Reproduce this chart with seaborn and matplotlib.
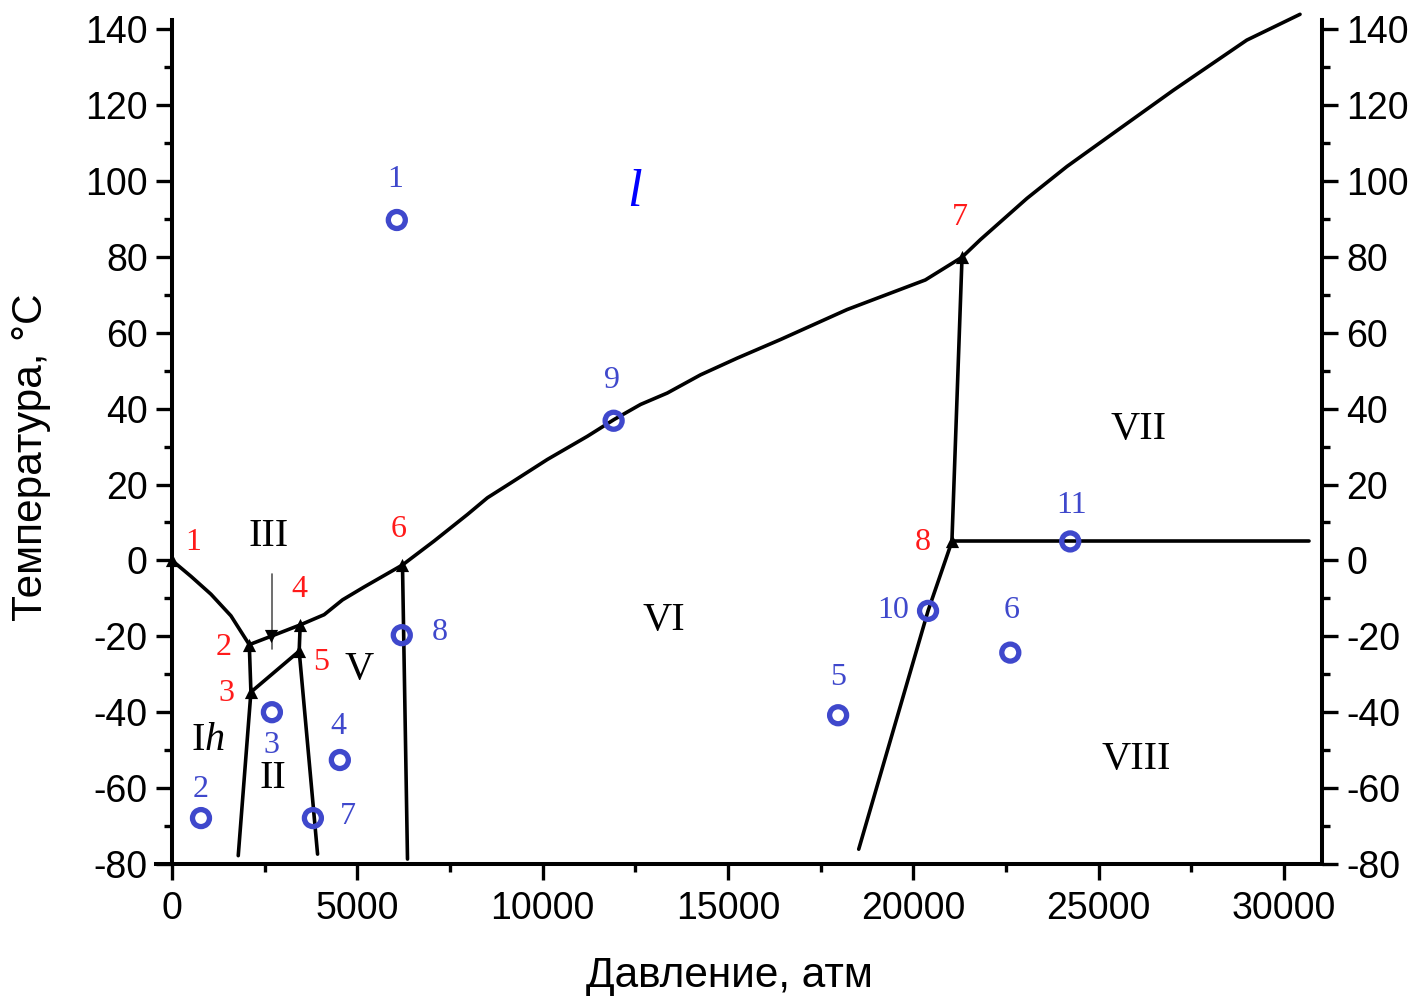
import matplotlib
matplotlib.use("Agg")
import matplotlib.pyplot as plt
import seaborn as sns
from matplotlib.ticker import MultipleLocator

# Phase boundaries of water: pressure (atm) and temperature (°C)
ih_liquid_p = [0, 512, 1050, 1590, 2085]
ih_liquid_t = [0, -4.2, -8.9, -14.6, -22.2]

iii_liquid_p = [2085, 2670, 3458]
iii_liquid_t = [-22.2, -20.0, -17.0]

v_liquid_p = [3458, 4105, 4600, 5183, 6218]
v_liquid_t = [-17.0, -14.3, -10.4, -7.0, -1.2]

vi_liquid_p = [6218, 7070, 7970, 8509, 9137, 10127, 11205, 11922, 12642,
               13361, 14259, 15248, 16415, 18213, 20323, 21313]
vi_liquid_t = [-1.2, 5.1, 12.1, 16.5, 20.4, 26.6, 32.7, 37.1, 41.1,
               44.1, 48.9, 53.3, 58.2, 66.1, 73.9, 79.9]

vii_liquid_p = [21313, 21806, 23065, 24143, 25399, 27016, 28995, 30431]
vii_liquid_t = [79.9, 84.5, 95.4, 103.8, 112.6, 123.9, 137.1, 143.9]

ih_iii_p = [2085, 2129]
ih_iii_t = [-22.2, -34.7]
ih_ii_p = [2129, 1787]
ih_ii_t = [-34.7, -77.8]
ii_iii_p = [2129, 3431]
ii_iii_t = [-34.7, -23.9]
iii_v_p = [3431, 3458]
iii_v_t = [-23.9, -17.0]
ii_v_p = [3431, 3927]
ii_v_t = [-23.9, -77.4]
v_vi_p = [6218, 6353]
v_vi_t = [-1.2, -78.7]
vi_vii_p = [21313, 21040]
vi_vii_t = [79.9, 5.0]
vi_viii_p = [21040, 20396, 18526]
vi_viii_t = [5.0, -13.3, -76.1]
vii_viii_p = [21040, 30680]
vii_viii_t = [5.0, 5.0]

# Triple points (numbered in red)
triple_p = [0, 2085, 2129, 3458, 3431, 6218, 21313, 21040]
triple_t = [0, -22.2, -34.7, -17.0, -23.9, -1.2, 79.9, 5.0]
triple_labels = ["1", "2", "3", "4", "5", "6", "7", "8"]
triple_label_p = [566, 1402, 1482, 3423, 4016, 6119, 21267, 20243]
triple_label_t = [4.7, -22.9, -35.0, -7.6, -26.8, 8.2, 90.3, 4.7]

# Sample states (numbered in blue)
state_p = [6065, 782, 2695, 4528, 17970, 22615, 3801, 6199, 11914, 20396, 24232]
state_t = [89.7, -67.9, -40.0, -52.6, -40.8, -24.3, -67.9, -19.7, 36.8, -13.3, 5.0]
state_labels = ["1", "2", "3", "4", "5", "6", "7", "8", "9", "10", "11"]
state_label_p = [6011, 782, 2695, 4501, 17978, 22642, 4744, 7224, 11860, 19461, 24259]
state_label_t = [100.3, -60.3, -48.7, -43.7, -30.8, -13.2, -67.4, -18.9, 47.4, -13.2, 14.5]

# Phase names
phase_names = ["III", "II", "V", "VI", "VII", "VIII"]
phase_p = [2615, 2722, 5040, 13261, 26065, 26011]
phase_t = [6.3, -57.4, -28.7, -15.8, 34.5, -52.4]

# Ice III region pointer
pointer_p = [2690, 2690]
pointer_t = [-3.7, -23.4]
pointer_head_p = [2670]
pointer_head_t = [-20.0]

RED = "#ff1a1a"
BLUE = "#3f48cc"

sns.set_theme(style="ticks")
plt.rcParams["font.family"] = ["Liberation Sans", "DejaVu Sans"]
plt.rcParams["axes.unicode_minus"] = False
plt.rcParams["text.color"] = "black"
plt.rcParams["axes.labelcolor"] = "black"
plt.rcParams["mathtext.fontset"] = "custom"
plt.rcParams["mathtext.rm"] = "Liberation Serif"
plt.rcParams["mathtext.it"] = "Liberation Serif:italic"

fig = plt.figure(figsize=(14.19, 9.98), dpi=100)
ax = fig.add_axes([172 / 1419, (998 - 864) / 998, (1322 - 172) / 1419, (864 - 20) / 998])

boundaries = [
    (ih_liquid_p, ih_liquid_t), (iii_liquid_p, iii_liquid_t), (v_liquid_p, v_liquid_t),
    (vi_liquid_p, vi_liquid_t), (vii_liquid_p, vii_liquid_t), (ih_iii_p, ih_iii_t),
    (ih_ii_p, ih_ii_t), (ii_iii_p, ii_iii_t), (iii_v_p, iii_v_t), (ii_v_p, ii_v_t),
    (v_vi_p, v_vi_t), (vi_vii_p, vi_vii_t), (vi_viii_p, vi_viii_t), (vii_viii_p, vii_viii_t),
]
for bp, bt in boundaries:
    sns.lineplot(x=bp, y=bt, sort=False, estimator=None, color="black",
                 linewidth=2.6, ax=ax, legend=False, clip_on=False, zorder=2)

# Pointer to the small ice III field
sns.lineplot(x=pointer_p, y=pointer_t, sort=False, estimator=None, color="#555555",
             linewidth=1.2, ax=ax, legend=False, zorder=2)
sns.scatterplot(x=pointer_head_p, y=pointer_head_t, marker="v", s=90, color="black",
                edgecolor="black", linewidth=0, ax=ax, legend=False, zorder=3)

sns.scatterplot(x=triple_p, y=triple_t, marker="^", s=90, color="black",
                edgecolor="black", linewidth=0, ax=ax, legend=False, zorder=3,
                clip_on=False)

sns.scatterplot(x=state_p, y=state_t, marker="o", s=150, color=BLUE,
                facecolors="none", edgecolors=BLUE, linewidths=3.8,
                ax=ax, legend=False, zorder=4)

serif = ["Liberation Serif", "DejaVu Serif"]
for lab, lp, lt in zip(triple_labels, triple_label_p, triple_label_t):
    ax.text(lp, lt, lab, color=RED, fontsize=23, family=serif, ha="center", va="center")
for lab, lp, lt in zip(state_labels, state_label_p, state_label_t):
    ax.text(lp, lt, lab, color=BLUE, fontsize=23, family=serif, ha="center", va="center")
for lab, lp, lt in zip(phase_names, phase_p, phase_t):
    ax.text(lp, lt, lab, color="black", fontsize=29, family=serif, ha="center", va="center")
ax.text(970, -47.4, r"I$\mathit{h}$", color="black", fontsize=29, family=serif,
        ha="center", va="center")
ax.text(12480, 96.8, "l", color="blue", fontsize=38, family=serif, style="italic",
        ha="center", va="center")

ax.set_xlim(0, 31024)
ax.set_ylim(-80, 142.4)
ax.xaxis.set_major_locator(MultipleLocator(5000))
ax.xaxis.set_minor_locator(MultipleLocator(2500))
ax.yaxis.set_major_locator(MultipleLocator(20))
ax.yaxis.set_minor_locator(MultipleLocator(10))

ax.spines["top"].set_visible(False)
for side in ["left", "right", "bottom"]:
    ax.spines[side].set_visible(True)
    ax.spines[side].set_linewidth(2.9)
    ax.spines[side].set_color("black")
ax.spines["bottom"].set_bounds(-430, 31024)

ax.tick_params(axis="both", which="major", direction="out", length=11.5, width=2.4,
               labelsize=27, color="black", labelcolor="black")
ax.tick_params(axis="both", which="minor", direction="out", length=5.8, width=2.4,
               color="black")
ax.tick_params(axis="y", which="both", left=True, right=True, labelleft=True,
               labelright=True, pad=6)
ax.tick_params(axis="x", which="both", bottom=True, top=False, pad=8)

ax.set_xlabel("Давление, атм", fontsize=30.5, color="black")
ax.set_ylabel("Температура, °C", fontsize=30.5, color="black")
ax.xaxis.set_label_coords(0.4843, -0.109)
ax.yaxis.set_label_coords(-0.105, 0.482)
ax.set_facecolor("white")
fig.patch.set_facecolor("white")

fig.savefig("out.png", dpi=100, facecolor="white")
